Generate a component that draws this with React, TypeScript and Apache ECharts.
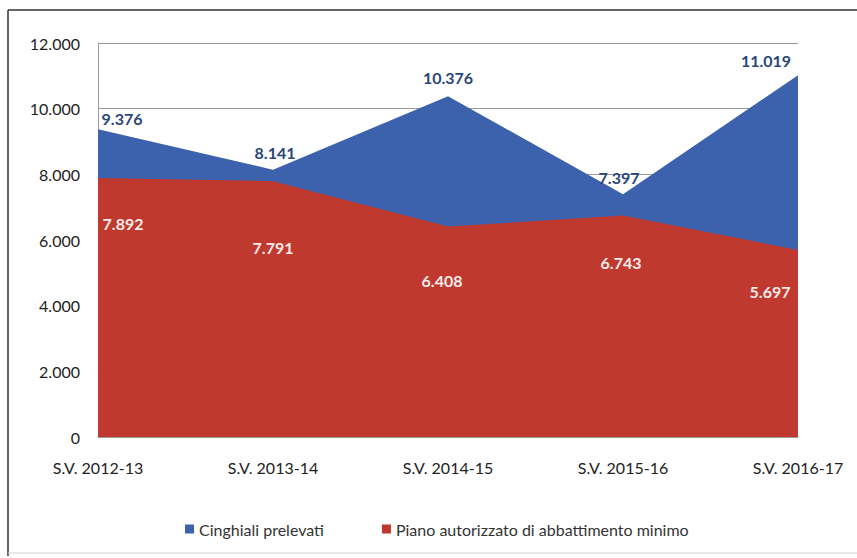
import React, { useEffect, useRef } from "react";
import * as echarts from "echarts";

const categories = ["S.V. 2012-13", "S.V. 2013-14", "S.V. 2014-15", "S.V. 2015-16", "S.V. 2016-17"];
const seriesNames = ["Cinghiali prelevati", "Piano autorizzato di abbattimento minimo"];
const prelevati = [9376, 8141, 10376, 7397, 11019];
const piano = [7892, 7791, 6408, 6743, 5697];
const yTicks = { min: 0, max: 12000, interval: 2000 };

// label placement styles (not data)
const blueOffsets = [[24, -3], [2, -9], [0, -11], [-4, -9], [-32, -7]];
const redOffsets = [[25, 38], [0, 58], [-6, 46], [-2, 39], [-28, 34]];

const BLUE = "#3d62ad";
const RED = "#c0392e";

const fmt = (v: number) => {
  const s = Math.round(v).toString();
  return s.replace(/\B(?=(\d{3})+(?!\d))/g, ".");
};

export default function App() {
  const ref = useRef<HTMLDivElement>(null);
  useEffect(() => {
    if (!ref.current) return;
    const chart = echarts.init(ref.current, undefined, { renderer: "svg" });
    chart.setOption({
      animation: false,
      backgroundColor: "#ffffff",
      textStyle: { fontFamily: "Lato" },
      grid: { left: 98, right: 59, top: 43, bottom: 121 },
      legend: {
        left: 180,
        top: 516,
        itemWidth: 9,
        itemHeight: 9,
        itemGap: 58,
        icon: "rect",
        textStyle: { fontSize: 16, color: "#333", fontFamily: "Lato" },
        data: seriesNames,
      },
      xAxis: {
        type: "category",
        data: categories,
        boundaryGap: false,
        axisLine: { show: true, lineStyle: { color: "#9a9a9a" } },
        axisTick: { show: false },
        axisLabel: { margin: 22, fontSize: 16, color: "#222", fontFamily: "Lato" },
      },
      yAxis: {
        type: "value",
        min: yTicks.min,
        max: yTicks.max,
        interval: yTicks.interval,
        axisLine: { show: true, lineStyle: { color: "#9a9a9a" } },
        axisTick: { show: false },
        splitLine: { show: true, lineStyle: { color: "#9a9a9a", width: 1 } },
        axisLabel: { margin: 18, fontSize: 16, color: "#222", fontFamily: "Lato", formatter: (v: number) => fmt(v) },
      },
      series: [
        {
          name: seriesNames[0],
          type: "line",
          data: prelevati.map((v, i) => ({ value: v, label: { offset: blueOffsets[i] } })),
          symbol: "circle",
          symbolSize: 0.1,
          showSymbol: true,
          lineStyle: { width: 0, color: BLUE },
          itemStyle: { color: BLUE },
          areaStyle: { color: BLUE, opacity: 1 },
          z: 2,
          label: {
            show: true,
            position: "top",
            distance: 0,
            fontSize: 16,
            fontWeight: "bold",
            color: "#2b4678",
            fontFamily: "Lato",
            formatter: (p: any) => fmt(p.value),
          },
        },
        {
          name: seriesNames[1],
          type: "line",
          data: piano.map((v, i) => ({ value: v, label: { offset: redOffsets[i] } })),
          symbol: "circle",
          symbolSize: 0.1,
          showSymbol: true,
          lineStyle: { width: 0, color: RED },
          itemStyle: { color: RED },
          areaStyle: { color: RED, opacity: 1 },
          z: 3,
          label: {
            show: true,
            position: "bottom",
            distance: 0,
            fontSize: 16,
            fontWeight: "bold",
            color: "#f7ecea",
            fontFamily: "Lato",
            formatter: (p: any) => fmt(p.value),
          },
        },
      ],
      graphic: [
        { type: "line", shape: { x1: 8, y1: 10, x2: 857, y2: 10 }, style: { stroke: "#333", lineWidth: 1.5 } },
        { type: "line", shape: { x1: 8, y1: 10, x2: 8, y2: 556 }, style: { stroke: "#333", lineWidth: 1.5 } },
        { type: "line", shape: { x1: 8, y1: 553, x2: 857, y2: 553 }, style: { stroke: "#cfcfcf", lineWidth: 1 } },
      ],
    });
    return () => chart.dispose();
  }, []);
  return <div ref={ref} style={{ position: "absolute", left: 0, top: 0, width: 857, height: 558 }} />;
}
